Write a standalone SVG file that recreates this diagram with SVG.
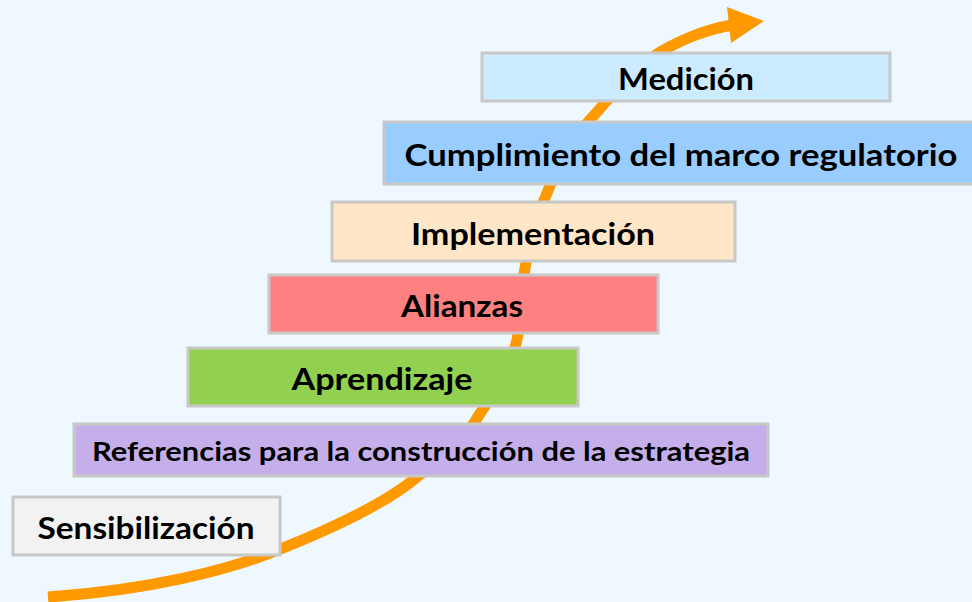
<svg xmlns="http://www.w3.org/2000/svg" width="972" height="602" viewBox="0 0 972 602">
<style>
.box{stroke:#C8C8C8;stroke-width:3}
.lbl{font-family:Lato,"Open Sans","Liberation Sans",sans-serif;font-weight:bold;fill:#000;text-anchor:middle;dominant-baseline:central;font-size:31px}
</style>
<rect x="0" y="0" width="972" height="602" fill="#EEF8FE"/>
<g id="connectors">
<path d="M48,597 C150,590 230,570 283,548 C340,525 390,500 417,477 C445,455 465,440 479,415 C500,385 512,360 517,340 C522,315 521,290 525,268 C530,240 537,215 547,193 C560,160 575,135 597,112 C620,85 640,65 660,52 C685,38 705,30 732,25" fill="none" stroke="#FF9900" stroke-width="11"/>
<polygon points="727,7 764,21 731,43" fill="#FF9900"/>
</g>
<g id="sensibilizacion">
<rect class="box" x="13" y="497" width="267" height="58" fill="#F2F2F2"/>
<text class="lbl" x="146" y="527" textLength="217" lengthAdjust="spacingAndGlyphs">Sensibilización</text>
</g>
<g id="referencias">
<rect class="box" x="74" y="424" width="694" height="52" fill="#C4AFEA"/>
<text class="lbl" x="421" y="451" style="font-size:26px" textLength="658" lengthAdjust="spacingAndGlyphs">Referencias para la construcción de la estrategia</text>
</g>
<g id="aprendizaje">
<rect class="box" x="188" y="348" width="390" height="58" fill="#92D050"/>
<text class="lbl" x="382" y="378" textLength="181" lengthAdjust="spacingAndGlyphs">Aprendizaje</text>
</g>
<g id="alianzas">
<rect class="box" x="269" y="275" width="389" height="58" fill="#FF8080"/>
<text class="lbl" x="462" y="305" textLength="122" lengthAdjust="spacingAndGlyphs">Alianzas</text>
</g>
<g id="implementacion">
<rect class="box" x="332" y="202" width="403" height="59" fill="#FFE6C6"/>
<text class="lbl" x="533" y="233" textLength="244" lengthAdjust="spacingAndGlyphs">Implementación</text>
</g>
<g id="cumplimiento">
<rect class="box" x="384" y="122" width="590" height="62" fill="#99CCFF"/>
<text class="lbl" x="681" y="154" textLength="553" lengthAdjust="spacingAndGlyphs">Cumplimiento del marco regulatorio</text>
</g>
<g id="medicion">
<rect class="box" x="482" y="53" width="408" height="48" fill="#CCEBFF"/>
<text class="lbl" x="686" y="78" textLength="136" lengthAdjust="spacingAndGlyphs">Medición</text>
</g>
</svg>
